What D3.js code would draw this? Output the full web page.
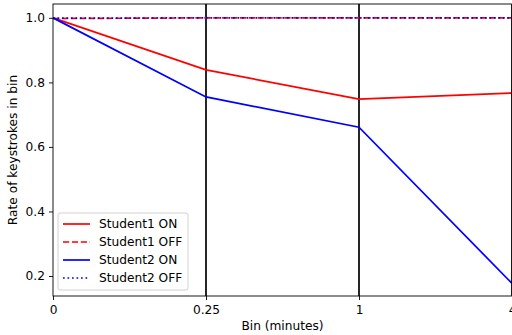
<!DOCTYPE html>
<html>
<head>
<meta charset="utf-8">
<script src="https://cdn.jsdelivr.net/npm/d3@7"></script>
<style>
  body { margin: 0; background: #fff; }
  text { font-family: "DejaVu Sans", sans-serif; }
</style>
</head>
<body>
<div id="chart"></div>
<script>
// Data
const bins = ["0", "0.25", "1", "4"];
const student1On = [1.0, 0.839, 0.748, 0.767];
const student1Off = [0.998, 1.0, 1.0, 1.0];
const student2On = [1.0, 0.755, 0.661, 0.177];
const student2Off = [0.999, 1.0, 1.0, 1.0];
const yTicks = [0.2, 0.4, 0.6, 0.8, 1.0];
const vLines = ["0.25", "1"];

const series = [
  { name: "Student1 ON", values: student1On, color: "#ff0000", dash: null },
  { name: "Student1 OFF", values: student1Off, color: "#ff0000", dash: "6.2,2.7" },
  { name: "Student2 ON", values: student2On, color: "#0000ff", dash: null },
  { name: "Student2 OFF", values: student2Off, color: "#0000ff", dash: "1.7,2.8" }
];

const fs = 12.2;
const width = 512, height = 335;
const margin = { top: 4, right: 0, bottom: 39, left: 53 };
const w = width - margin.left - margin.right;
const h = height - margin.top - margin.bottom;

const svg = d3.select("#chart").append("svg")
  .attr("width", width).attr("height", height);
const g = svg.append("g").attr("transform", `translate(${margin.left},${margin.top})`);

const x = d3.scalePoint().domain(bins).range([0, w]).padding(0);
const y = d3.scaleLinear().domain([0.138, 1.043]).range([h, 0]);

// vertical lines
g.selectAll(".vline").data(vLines).enter().append("line")
  .attr("x1", d => x(d)).attr("x2", d => x(d))
  .attr("y1", 0).attr("y2", h)
  .attr("stroke", "black").attr("stroke-width", 1.7);

// series lines
const line = d3.line().x((d, i) => x(bins[i])).y(d => y(d));
g.selectAll(".series").data(series).enter().append("path")
  .attr("d", d => line(d.values))
  .attr("fill", "none")
  .attr("stroke", d => d.color)
  .attr("stroke-width", 1.7)
  .attr("stroke-dasharray", d => d.dash);

// axes
const xAxis = g.append("g").attr("transform", `translate(0,${h})`)
  .call(d3.axisBottom(x).tickSize(4).tickPadding(5));
const yAxis = g.append("g")
  .call(d3.axisLeft(y).tickValues(yTicks).tickFormat(d3.format(".1f")).tickSize(4).tickPadding(4));
[xAxis, yAxis].forEach(a => {
  a.select(".domain").remove();
  a.selectAll("line").attr("stroke", "black").attr("stroke-width", 0.9);
  a.selectAll("text").attr("font-size", fs).attr("fill", "black")
    .style("font-family", "DejaVu Sans, sans-serif");
});

// frame
g.append("rect").attr("x", 0).attr("y", 0).attr("width", w - 0.5).attr("height", h)
  .attr("fill", "none").attr("stroke", "black").attr("stroke-width", 0.9);

// labels
svg.append("text").attr("x", margin.left + w / 2).attr("y", 330)
  .attr("text-anchor", "middle").attr("font-size", fs).text("Bin (minutes)");
svg.append("text").attr("transform", `translate(17,${margin.top + h / 2}) rotate(-90)`)
  .attr("text-anchor", "middle").attr("font-size", fs).text("Rate of keystrokes in bin");

// legend
const lg = g.append("g").attr("transform", "translate(5,209)");
lg.append("rect").attr("width", 130).attr("height", 77).attr("rx", 2)
  .attr("fill", "white").attr("fill-opacity", 0.8)
  .attr("stroke", "#cccccc").attr("stroke-width", 0.9);
const items = lg.selectAll(".item").data(series).enter().append("g")
  .attr("transform", (d, i) => `translate(5,${11 + i * 18})`);
items.append("line").attr("x1", 0).attr("x2", 27).attr("y1", 0).attr("y2", 0)
  .attr("stroke", d => d.color).attr("stroke-width", 1.7)
  .attr("stroke-dasharray", d => d.dash);
items.append("text").attr("x", 36).attr("y", 4.3).attr("font-size", fs).text(d => d.name);
</script>
</body>
</html>
